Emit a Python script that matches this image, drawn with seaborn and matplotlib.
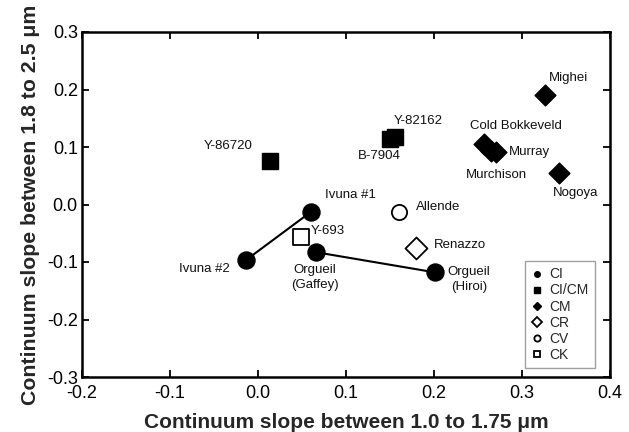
import matplotlib
matplotlib.use("Agg")
import matplotlib.pyplot as plt
from matplotlib.lines import Line2D
import seaborn as sns
import pandas as pd

# Meteorite continuum slopes
names = ["Ivuna #1", "Ivuna #2", "Orgueil\n(Gaffey)", "Orgueil\n(Hiroi)",
         "Y-86720", "Y-82162", "B-7904",
         "Mighei", "Cold Bokkeveld", "Murchison", "Murray", "Nogoya",
         "Renazzo", "Allende", "Y-693"]
groups = ["CI", "CI", "CI", "CI",
          "CI/CM", "CI/CM", "CI/CM",
          "CM", "CM", "CM", "CM", "CM",
          "CR", "CV", "CK"]
slope_short = [0.060, -0.014, 0.066, 0.201,
               0.014, 0.156, 0.150,
               0.326, 0.257, 0.265, 0.271, 0.342,
               0.180, 0.160, 0.049]
slope_long = [-0.013, -0.097, -0.083, -0.118,
              0.076, 0.117, 0.114,
              0.191, 0.105, 0.093, 0.092, 0.055,
              -0.076, -0.013, -0.056]

# Pairs of measurements of the same meteorite joined by a line
links = [("Ivuna #2", "Ivuna #1"), ("Orgueil\n(Gaffey)", "Orgueil\n(Hiroi)")]

df = pd.DataFrame({"name": names, "group": groups,
                   "x": slope_short, "y": slope_long})

sns.set_theme(style="white")
plt.rcParams["font.family"] = ["Liberation Sans", "DejaVu Sans"]

fig = plt.figure(figsize=(6.29, 4.32), dpi=100)
ax = fig.add_axes([82 / 629, 1 - 377 / 432, 528 / 629, 345 / 432])

for a, b in links:
    pa = df[df.name == a].iloc[0]
    pb = df[df.name == b].iloc[0]
    ax.plot([pa.x, pb.x], [pa.y, pb.y], color="black", lw=1.5, zorder=1)

styles = {
    "CI": dict(marker="o", s=150, color="black", edgecolor="black", linewidth=1.0),
    "CI/CM": dict(marker="s", s=118, color="black", edgecolor="black", linewidth=1.0),
    "CM": dict(marker="D", s=112, color="black", edgecolor="black", linewidth=1.0),
    "CR": dict(marker="D", s=125, color="white", edgecolor="black", linewidth=1.3),
    "CV": dict(marker="o", s=120, color="white", edgecolor="black", linewidth=1.3),
    "CK": dict(marker="s", s=118, color="white", edgecolor="black", linewidth=1.3),
}
for g, kw in styles.items():
    sub = df[df.group == g]
    sns.scatterplot(data=sub, x="x", y="y", ax=ax, zorder=3, legend=False, **kw)

# Label placement (pixel offsets, horizontal alignment)
label_pos = {
    "Ivuna #1": (14, 17, "left"),
    "Ivuna #2": (-16, -9, "right"),
    "Orgueil\n(Gaffey)": (-1, -25, "center"),
    "Orgueil\n(Hiroi)": (34, -7, "center"),
    "Y-86720": (-18, 15, "right"),
    "Y-82162": (-2, 16, "left"),
    "B-7904": (-11, -17, "center"),
    "Mighei": (4, 17, "left"),
    "Cold Bokkeveld": (-14, 18, "left"),
    "Murchison": (5, -24, "center"),
    "Murray": (12, 0, "left"),
    "Nogoya": (17, -20, "center"),
    "Renazzo": (17, 3, "left"),
    "Allende": (17, 5, "left"),
    "Y-693": (10, 6, "left"),
}
for _, r in df.iterrows():
    dx, dy, ha = label_pos[r["name"]]
    ax.annotate(r["name"], (r.x, r.y), xytext=(dx, dy), textcoords="offset pixels",
                ha=ha, va="center", fontsize=9.5, color="#111111",
                linespacing=1.3, multialignment="center")

ax.set_xlim(-0.2, 0.4)
ax.set_ylim(-0.3, 0.3)
ax.set_xticks([-0.2, -0.1, 0.0, 0.1, 0.2, 0.3, 0.4])
ax.set_yticks([-0.3, -0.2, -0.1, 0.0, 0.1, 0.2, 0.3])
ax.xaxis.set_major_formatter(matplotlib.ticker.FormatStrFormatter("%.1f"))
ax.yaxis.set_major_formatter(matplotlib.ticker.FormatStrFormatter("%.1f"))
ax.tick_params(direction="in", length=5, width=1.3, top=True, right=True,
               labelsize=13, colors="black", bottom=True, left=True)
ax.tick_params(axis="x", pad=6)
ax.tick_params(axis="y", pad=3)
for sp in ax.spines.values():
    sp.set_color("black")
    sp.set_linewidth(1.8)

ax.set_xlabel("Continuum slope between 1.0 to 1.75 \u03bcm", fontsize=15,
              fontweight="bold")
ax.xaxis.set_label_coords(0.5, -51 / 345, transform=ax.transAxes)
ax.xaxis.label.set_va("baseline")
ax.set_ylabel("Continuum slope between 1.8 to 2.5 \u03bcm", fontsize=15.3,
              fontweight="bold", labelpad=5)

handles = [
    Line2D([], [], marker="o", ls="", color="black", markersize=4),
    Line2D([], [], marker="s", ls="", color="black", markersize=4),
    Line2D([], [], marker="D", ls="", color="black", markersize=4),
    Line2D([], [], marker="D", ls="", markerfacecolor="white",
           markeredgecolor="black", markeredgewidth=1.3, markersize=5),
    Line2D([], [], marker="o", ls="", markerfacecolor="white",
           markeredgecolor="black", markeredgewidth=1.3, markersize=4.5),
    Line2D([], [], marker="s", ls="", markerfacecolor="white",
           markeredgecolor="black", markeredgewidth=1.3, markersize=4.5),
]
leg = ax.legend(handles, list(styles.keys()), loc="lower right",
                bbox_to_anchor=(0.972, 0.026), fontsize=10, frameon=True,
                fancybox=False, handlelength=0.8, handletextpad=0.5,
                labelspacing=0.15, borderpad=0.45, borderaxespad=0)
leg.get_frame().set_edgecolor("#888888")
leg.get_frame().set_linewidth(1.0)

fig.savefig("out.png", dpi=100)
